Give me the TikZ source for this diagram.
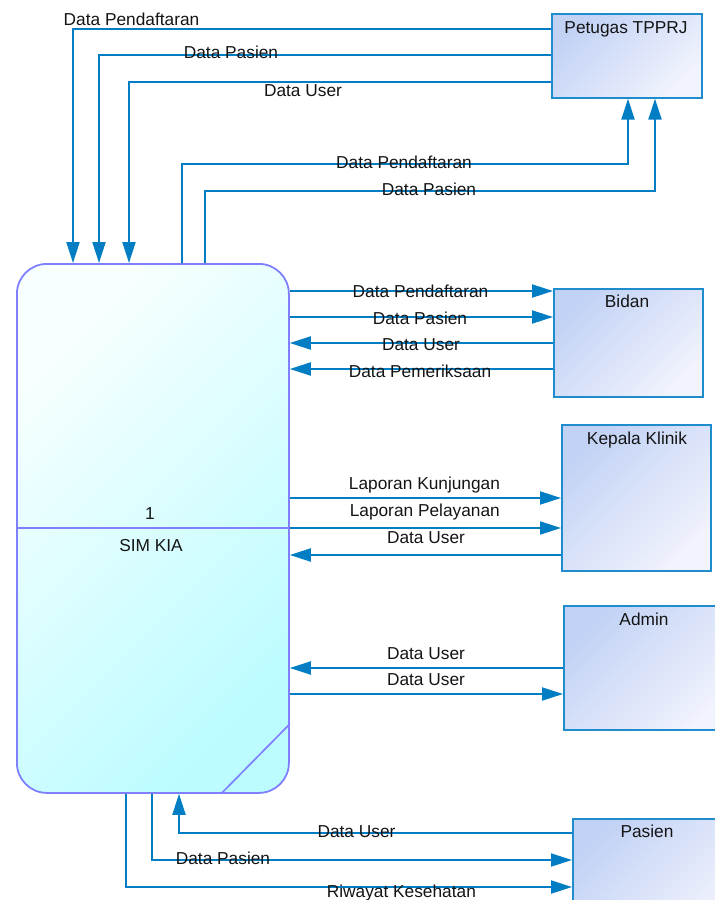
\documentclass[tikz,border=0pt]{standalone}
\usepackage{fontspec}
\setmainfont{Liberation Sans}
\usetikzlibrary{arrows.meta}
\definecolor{flowc}{RGB}{0,125,195}
\definecolor{procb}{RGB}{128,128,255}
\definecolor{procA}{RGB}{248,255,255}
\definecolor{procB}{RGB}{188,252,255}
\definecolor{entc}{RGB}{30,140,205}
\definecolor{entA}{RGB}{194,210,245}
\definecolor{entB}{RGB}{241,243,253}
\tikzset{
  flow/.style={draw=flowc, line width=2pt, -{Triangle[length=21pt,width=13pt]}},
  ent/.style={draw=entc, line width=1.6pt, top color=entA, bottom color=entB, shading angle=45,
              rectangle, inner sep=0pt, anchor=north west},
  lbl/.style={font=\fontsize{17.3}{20}\selectfont, inner sep=0pt, anchor=base, text=black!92},
  procline/.style={draw=procb, line width=1.7pt},
}
\begin{document}
\begin{tikzpicture}[x=1pt,y=-1pt]
\useasboundingbox (0,0) rectangle (715,900);

% entities
\node[ent, minimum width=150pt, minimum height=84pt] (pt) at (551,13) {};
\node[ent, minimum width=149pt, minimum height=108pt] (bd) at (553,288) {};
\node[ent, minimum width=149pt, minimum height=146pt] (kk) at (561,424) {};
\node[ent, minimum width=170pt, minimum height=124pt] (ad) at (563,605) {};
\node[ent, minimum width=170pt, minimum height=110pt] (ps) at (572,818) {};

\node[lbl] (tpt) at (626,33.3) {Petugas TPPRJ};
\node[lbl] (tbd) at (627,307.7) {Bidan};
\node[lbl] (tkk) at (637,444) {Kepala Klinik};
\node[lbl] (tad) at (644,625) {Admin};
\node[lbl] (tps) at (647,837.3) {Pasien};

% process
\node[draw=procb, line width=1.8pt, rounded corners=30pt, top color=procA, bottom color=procB,
      shading angle=45, minimum width=272pt, minimum height=529pt, inner sep=0pt,
      anchor=north west] (proc) at (16,263) {};
\draw[procline] (proc.west |- 0,528) -- (proc.east |- 0,528);
\draw[procline] (proc.east |- 0,724) -- (221,0 |- proc.south);
\node[lbl] (pnum) at (150,519) {1};
\node[lbl] (pname) at (151,551) {SIM KIA};

% Petugas TPPRJ -> process
\draw[flow] (pt.west |- 0,29) -| (73,0 |- proc.north);
\draw[flow] (pt.west |- 0,55) -| (99,0 |- proc.north);
\draw[flow] (pt.west |- 0,82) -| (129,0 |- proc.north);
\node[lbl] (l1) at (131.5,25) {Data Pendaftaran};
\node[lbl] (l2) at (231,58.3) {Data Pasien};
\node[lbl] (l3) at (303,96.7) {Data User};

% process -> Petugas TPPRJ
\draw[flow] (182,0 |- proc.north) |- (628,164) -- (628,0 |- pt.south);
\draw[flow] (205,0 |- proc.north) |- (655,191) -- (655,0 |- pt.south);
\node[lbl] (l4) at (404,168.3) {Data Pendaftaran};
\node[lbl] (l5) at (429,195) {Data Pasien};

% Bidan
\draw[flow] (proc.east |- 0,291) -- (bd.west |- 0,291);
\draw[flow] (proc.east |- 0,317) -- (bd.west |- 0,317);
\draw[flow] (bd.west |- 0,343) -- (proc.east |- 0,343);
\draw[flow] (bd.west |- 0,369) -- (proc.east |- 0,369);
\node[lbl] (l6) at (420.5,297.3) {Data Pendaftaran};
\node[lbl] (l7) at (420,324) {Data Pasien};
\node[lbl] (l8) at (421,350.7) {Data User};
\node[lbl] (l9) at (420,377.3) {Data Pemeriksaan};

% Kepala Klinik
\draw[flow] (proc.east |- 0,498) -- (kk.west |- 0,498);
\draw[flow] (proc.east |- 0,528) -- (kk.west |- 0,528);
\draw[flow] (kk.west |- 0,555) -- (proc.east |- 0,555);
\node[lbl] (l10) at (424.5,489.3) {Laporan Kunjungan};
\node[lbl] (l11) at (424.8,516.7) {Laporan Pelayanan};
\node[lbl] (l12) at (426,543.3) {Data User};

% Admin
\draw[flow] (ad.west |- 0,668) -- (proc.east |- 0,668);
\draw[flow] (proc.east |- 0,694) -- (ad.west |- 0,694);
\node[lbl] (l13) at (426,659) {Data User};
\node[lbl] (l14) at (426,685) {Data User};

% Pasien
\draw[flow] (ps.west |- 0,833) -| (179,0 |- proc.south);
\draw[flow] (152,0 |- proc.south) |- (ps.west |- 0,860);
\draw[flow] (126,0 |- proc.south) |- (ps.west |- 0,887);
\node[lbl] (l15) at (356.5,837.3) {Data User};
\node[lbl] (l16) at (223,864.3) {Data Pasien};
\node[lbl] (l17) at (401.4,897.3) {Riwayat Kesehatan};
\end{tikzpicture}
\end{document}
